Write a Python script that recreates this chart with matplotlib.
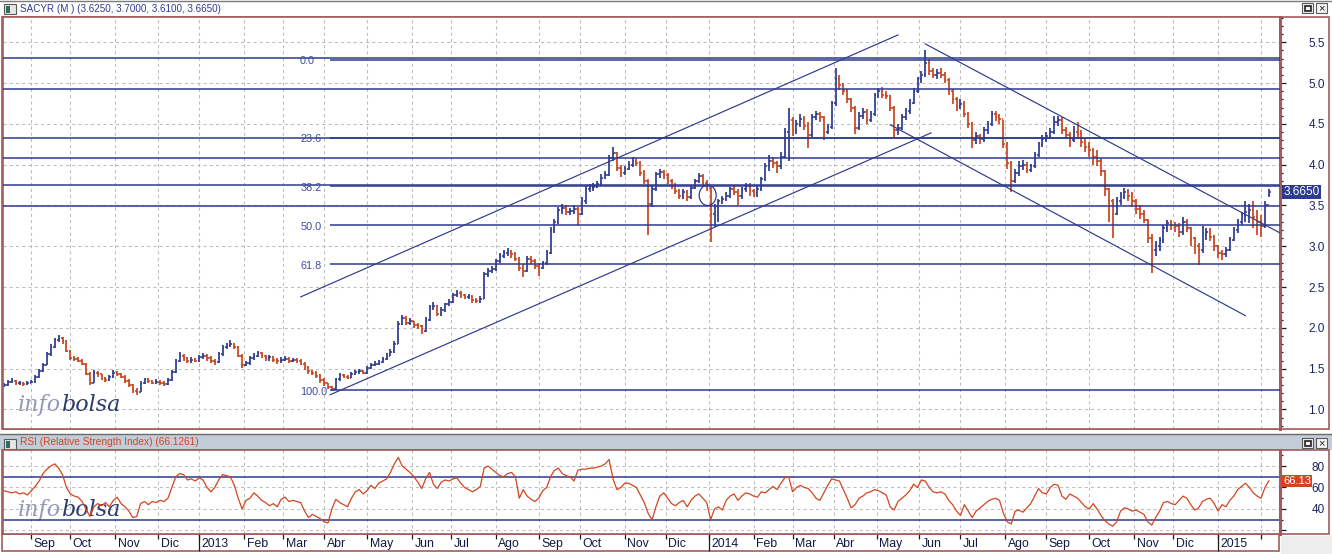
import numpy as np
import pandas as pd
import matplotlib
matplotlib.use('Agg')
import matplotlib.pyplot as plt
from matplotlib.patches import Rectangle, Ellipse
from matplotlib.transforms import ScaledTranslation, blended_transform_factory

plt.rcParams['font.family'] = ['Liberation Sans', 'DejaVu Sans']

# ---------------- data (one bar = 2 sessions) ----------------
start_day = '2012-08-14'

cl = [1.30, 1.34, 1.35, 1.32, 1.33, 1.31, 1.33, 1.34, 1.40, 1.47,
      1.55, 1.68, 1.76, 1.85, 1.88, 1.84, 1.72, 1.63, 1.62, 1.60,
      1.56, 1.44, 1.33, 1.45, 1.43, 1.38, 1.36, 1.40, 1.45, 1.44,
      1.40, 1.35, 1.30, 1.23, 1.22, 1.33, 1.37, 1.35, 1.33, 1.34,
      1.33, 1.31, 1.36, 1.46, 1.60, 1.66, 1.63, 1.59, 1.61, 1.60,
      1.64, 1.66, 1.63, 1.60, 1.58, 1.68, 1.76, 1.78, 1.80, 1.76,
      1.66, 1.55, 1.57, 1.63, 1.66, 1.69, 1.65, 1.63, 1.64, 1.61,
      1.59, 1.61, 1.62, 1.59, 1.61, 1.60, 1.56, 1.52, 1.47, 1.45,
      1.41, 1.36, 1.32, 1.27, 1.25, 1.37, 1.42, 1.40, 1.39, 1.44,
      1.46, 1.47, 1.45, 1.51, 1.55, 1.56, 1.58, 1.62, 1.66, 1.70,
      1.80, 2.05, 2.12, 2.06, 2.08, 2.03, 2.02, 1.96, 2.10, 2.25,
      2.27, 2.17, 2.22, 2.29, 2.32, 2.40, 2.43, 2.40, 2.38, 2.39,
      2.34, 2.33, 2.36, 2.66, 2.70, 2.72, 2.82, 2.88, 2.92, 2.93,
      2.90, 2.85, 2.74, 2.70, 2.85, 2.82, 2.76, 2.74, 2.79, 2.92,
      3.20, 3.30, 3.44, 3.47, 3.42, 3.43, 3.46, 3.40, 3.55, 3.70,
      3.71, 3.73, 3.76, 3.84, 3.87, 4.08, 4.14, 3.96, 3.90, 3.95,
      4.00, 4.05, 4.02, 3.90, 3.80, 3.52, 3.70, 3.88, 3.91, 3.87,
      3.80, 3.74, 3.68, 3.62, 3.66, 3.60, 3.72, 3.80, 3.86, 3.78,
      3.72, 3.40, 3.48, 3.55, 3.58, 3.62, 3.70, 3.67, 3.62, 3.70,
      3.74, 3.68, 3.64, 3.70, 3.82, 3.98, 4.05, 4.02, 3.98, 4.10,
      4.40, 4.55, 4.42, 4.50, 4.56, 4.48, 4.36, 4.58, 4.62, 4.58,
      4.40, 4.46, 4.75, 5.05, 4.98, 4.90, 4.80, 4.70, 4.45, 4.60,
      4.64, 4.55, 4.62, 4.85, 4.90, 4.86, 4.84, 4.70, 4.42, 4.45,
      4.58, 4.66, 4.76, 4.90, 5.05, 5.10, 5.25, 5.15, 5.10, 5.12,
      5.10, 5.04, 4.90, 4.80, 4.72, 4.74, 4.62, 4.50, 4.30, 4.35,
      4.32, 4.42, 4.50, 4.62, 4.58, 4.56, 4.25, 4.02, 3.80, 3.90,
      3.98, 4.00, 3.94, 3.98, 4.12, 4.25, 4.32, 4.35, 4.40, 4.52,
      4.55, 4.42, 4.36, 4.30, 4.40, 4.38, 4.28, 4.22, 4.18, 4.10,
      4.05, 3.92, 3.70, 3.55, 3.40, 3.55, 3.62, 3.66, 3.62, 3.56,
      3.46, 3.40, 3.32, 3.10, 2.95, 3.00, 3.08, 3.22, 3.28, 3.26,
      3.25, 3.18, 3.30, 3.22, 3.10, 3.00, 2.96, 3.15, 3.18, 3.12,
      3.00, 2.92, 2.90, 2.96, 3.08, 3.20, 3.30, 3.38, 3.42, 3.45,
      3.36, 3.30, 3.25, 3.50, 3.665]

hi = [1.33, 1.36, 1.38, 1.36, 1.35, 1.34, 1.35, 1.36, 1.42, 1.50,
      1.57, 1.70, 1.80, 1.88, 1.91, 1.89, 1.85, 1.73, 1.66, 1.64,
      1.62, 1.57, 1.46, 1.48, 1.47, 1.44, 1.40, 1.42, 1.48, 1.47,
      1.45, 1.42, 1.37, 1.31, 1.26, 1.35, 1.39, 1.39, 1.36, 1.37,
      1.36, 1.35, 1.38, 1.48, 1.62, 1.70, 1.68, 1.64, 1.64, 1.63,
      1.67, 1.69, 1.68, 1.65, 1.62, 1.70, 1.79, 1.82, 1.85, 1.82,
      1.78, 1.68, 1.60, 1.65, 1.69, 1.72, 1.70, 1.67, 1.67, 1.66,
      1.63, 1.64, 1.65, 1.64, 1.63, 1.63, 1.62, 1.58, 1.53, 1.49,
      1.47, 1.43, 1.38, 1.33, 1.29, 1.39, 1.45, 1.44, 1.42, 1.46,
      1.49, 1.50, 1.49, 1.53, 1.57, 1.59, 1.61, 1.64, 1.69, 1.74,
      1.84, 2.08, 2.16, 2.14, 2.12, 2.09, 2.06, 2.04, 2.13, 2.28,
      2.32, 2.28, 2.25, 2.31, 2.35, 2.43, 2.46, 2.45, 2.42, 2.42,
      2.40, 2.37, 2.39, 2.68, 2.74, 2.76, 2.84, 2.92, 2.96, 2.98,
      2.96, 2.93, 2.87, 2.78, 2.88, 2.88, 2.84, 2.80, 2.82, 2.95,
      3.24, 3.34, 3.48, 3.52, 3.50, 3.47, 3.50, 3.48, 3.60, 3.74,
      3.76, 3.78, 3.80, 3.89, 3.92, 4.12, 4.22, 4.16, 4.00, 3.99,
      4.04, 4.10, 4.08, 4.04, 3.93, 3.82, 3.74, 3.91, 3.95, 3.94,
      3.90, 3.83, 3.77, 3.70, 3.70, 3.69, 3.75, 3.83, 3.90, 3.89,
      3.81, 3.74, 3.52, 3.58, 3.62, 3.66, 3.73, 3.74, 3.70, 3.73,
      3.78, 3.77, 3.70, 3.74, 3.85, 4.02, 4.12, 4.10, 4.05, 4.16,
      4.45, 4.69, 4.58, 4.55, 4.62, 4.60, 4.52, 4.62, 4.66, 4.65,
      4.60, 4.50, 4.78, 5.18, 5.10, 5.00, 4.93, 4.82, 4.72, 4.64,
      4.70, 4.68, 4.66, 4.88, 4.94, 4.95, 4.90, 4.86, 4.72, 4.50,
      4.62, 4.70, 4.80, 4.94, 5.08, 5.15, 5.40, 5.30, 5.18, 5.17,
      5.18, 5.14, 5.06, 4.93, 4.83, 4.80, 4.78, 4.65, 4.52, 4.40,
      4.38, 4.46, 4.54, 4.66, 4.66, 4.62, 4.55, 4.28, 4.05, 3.95,
      4.04, 4.06, 4.03, 4.01, 4.16, 4.28, 4.36, 4.40, 4.45, 4.60,
      4.60, 4.58, 4.46, 4.40, 4.48, 4.52, 4.42, 4.32, 4.28, 4.20,
      4.18, 4.08, 3.94, 3.72, 3.58, 3.60, 3.67, 3.72, 3.70, 3.66,
      3.58, 3.50, 3.44, 3.34, 3.15, 3.06, 3.12, 3.26, 3.32, 3.32,
      3.30, 3.28, 3.36, 3.34, 3.24, 3.12, 3.04, 3.25, 3.22, 3.22,
      3.14, 3.02, 2.96, 2.99, 3.12, 3.24, 3.34, 3.42, 3.56, 3.52,
      3.55, 3.44, 3.38, 3.56, 3.70]

lo = [1.27, 1.29, 1.32, 1.30, 1.30, 1.29, 1.30, 1.32, 1.33, 1.39,
      1.46, 1.54, 1.66, 1.75, 1.83, 1.80, 1.70, 1.61, 1.59, 1.58,
      1.54, 1.42, 1.30, 1.32, 1.40, 1.36, 1.34, 1.35, 1.39, 1.41,
      1.38, 1.33, 1.28, 1.20, 1.18, 1.21, 1.31, 1.32, 1.31, 1.31,
      1.30, 1.29, 1.30, 1.35, 1.45, 1.58, 1.60, 1.57, 1.57, 1.58,
      1.58, 1.62, 1.60, 1.57, 1.55, 1.57, 1.66, 1.74, 1.76, 1.74,
      1.64, 1.51, 1.53, 1.55, 1.61, 1.64, 1.63, 1.60, 1.60, 1.58,
      1.56, 1.57, 1.59, 1.57, 1.58, 1.57, 1.54, 1.49, 1.44, 1.42,
      1.38, 1.33, 1.29, 1.25, 1.23, 1.24, 1.35, 1.38, 1.37, 1.38,
      1.42, 1.44, 1.43, 1.44, 1.50, 1.53, 1.54, 1.57, 1.61, 1.65,
      1.69, 1.80, 2.03, 2.03, 2.04, 2.00, 1.99, 1.92, 1.95, 2.08,
      2.22, 2.14, 2.15, 2.20, 2.27, 2.30, 2.38, 2.37, 2.35, 2.35,
      2.31, 2.30, 2.31, 2.35, 2.62, 2.67, 2.70, 2.79, 2.86, 2.88,
      2.86, 2.82, 2.70, 2.62, 2.68, 2.78, 2.72, 2.64, 2.72, 2.77,
      2.90, 3.16, 3.27, 3.40, 3.38, 3.38, 3.40, 3.25, 3.38, 3.52,
      3.66, 3.68, 3.71, 3.74, 3.82, 3.86, 4.04, 3.92, 3.85, 3.87,
      3.93, 3.97, 3.98, 3.86, 3.76, 3.14, 3.48, 3.68, 3.84, 3.82,
      3.76, 3.70, 3.64, 3.58, 3.58, 3.56, 3.58, 3.70, 3.77, 3.75,
      3.68, 3.05, 3.24, 3.30, 3.52, 3.55, 3.59, 3.63, 3.50, 3.58,
      3.67, 3.62, 3.60, 3.61, 3.68, 3.80, 3.92, 3.96, 3.90, 3.95,
      4.08, 4.05, 4.35, 4.38, 4.46, 4.42, 4.20, 4.34, 4.55, 4.52,
      4.30, 4.38, 4.44, 4.72, 4.92, 4.85, 4.76, 4.64, 4.38, 4.42,
      4.56, 4.50, 4.52, 4.60, 4.82, 4.82, 4.80, 4.66, 4.34, 4.36,
      4.43, 4.55, 4.62, 4.74, 4.88, 5.00, 5.08, 5.10, 5.06, 5.05,
      5.06, 5.00, 4.86, 4.74, 4.66, 4.68, 4.58, 4.45, 4.20, 4.25,
      4.25, 4.28, 4.38, 4.48, 4.53, 4.50, 4.20, 3.95, 3.66, 3.77,
      3.86, 3.94, 3.90, 3.91, 3.96, 4.10, 4.22, 4.28, 4.32, 4.38,
      4.48, 4.38, 4.32, 4.22, 4.28, 4.32, 4.22, 4.16, 4.10, 4.00,
      3.98, 3.86, 3.62, 3.30, 3.10, 3.38, 3.50, 3.58, 3.55, 3.48,
      3.40, 3.34, 3.28, 3.04, 2.67, 2.88, 2.94, 3.04, 3.18, 3.20,
      3.18, 3.12, 3.14, 3.18, 3.00, 2.90, 2.77, 2.92, 3.08, 3.06,
      2.94, 2.86, 2.83, 2.87, 2.94, 3.06, 3.16, 3.26, 3.30, 3.28,
      3.22, 3.14, 3.12, 3.22, 3.61]

rsi = [57, 56, 55, 56, 54, 55, 53, 57, 61, 66,
       73, 77, 80, 82, 78, 72, 60, 54, 52, 51,
       47, 40, 33, 42, 45, 43, 46, 42, 48, 51,
       45, 42, 38, 32, 33, 45, 47, 44, 47, 46,
       48, 47, 50, 60, 70, 73, 72, 67, 68, 66,
       69, 67, 60, 56, 60, 67, 72, 71, 70, 62,
       50, 40, 48, 50, 55, 52, 48, 46, 43, 45,
       42, 49, 51, 47, 48, 47, 46, 38, 32, 35,
       33, 31, 28, 27, 40, 49, 46, 44, 42, 50,
       56, 58, 54, 57, 62, 59, 64, 66, 68, 74,
       82, 88, 80, 77, 74, 70, 65, 59, 68, 74,
       63, 59, 65, 67, 66, 68, 69, 64, 60, 58,
       56, 58, 61, 78, 80, 77, 74, 71, 70, 73,
       74, 70, 50, 58, 52, 49, 47, 50, 57, 60,
       70, 76, 78, 73, 71, 70, 66, 76, 77, 77,
       78, 78, 79, 80, 82, 86, 68, 58, 60, 64,
       64, 62, 60, 53, 46, 36, 30, 42, 52, 55,
       50, 45, 43, 46, 48, 42, 48, 52, 54, 50,
       46, 30, 40, 42, 39, 48, 52, 54, 48, 52,
       55, 54, 52, 51, 56, 55, 58, 61, 58, 64,
       69, 70, 56, 60, 62, 60, 59, 55, 50, 48,
       55, 62, 68, 67, 66, 58, 50, 41, 44, 50,
       52, 55, 56, 58, 57, 55, 53, 42, 39, 47,
       50, 53, 57, 63, 60, 67, 66, 60, 56, 55,
       56, 54, 48, 44, 38, 34, 44, 38, 32, 38,
       41, 44, 47, 49, 50, 48, 36, 28, 26, 38,
       39, 37, 41, 45, 52, 59, 55, 54, 60, 63,
       62, 52, 49, 54, 52, 50, 46, 42, 40, 45,
       40, 34, 29, 26, 24, 28, 38, 41, 40, 38,
       39, 37, 35, 28, 25, 32, 38, 46, 47, 45,
       44, 48, 52, 50, 44, 39, 41, 47, 49, 50,
       45, 38, 44, 42, 48, 52, 58, 61, 64, 60,
       55, 52, 50, 60, 66.13]

last_ohlc = (3.6250, 3.7000, 3.6100, 3.6650)
rsi_last = 66.1261

# horizontal support / resistance lines (full width)
support = [5.308, 4.928, 4.33, 4.082, 3.748, 3.494]
# fibonacci retracement
fib_high, fib_low = 5.283, 1.235
fib_from = '2013-04-04'
fib_pct = [0.0, 23.6, 38.2, 50.0, 61.8, 100.0]
# channels: start date, start price, end date, end price
trend_d0 = ['2013-03-14', '2013-04-04', '2014-06-05', '2014-05-12']
trend_p0 = [2.38, 1.18, 5.48, 4.49]
trend_d1 = ['2014-05-16', '2014-06-10', '2015-02-16', '2015-01-21']
trend_p1 = [5.59, 4.39, 3.16, 2.15]
circle_day, circle_px = '2013-12-31', 3.625

mes = ['', 'Ene', 'Feb', 'Mar', 'Abr', 'May', 'Jun', 'Jul', 'Ago', 'Sep', 'Oct', 'Nov', 'Dic']

# ---------------- layout ----------------
NAVY = '#2E3A8E'
UP = '#2F3B8F'
DN = '#C8441C'
RED = '#D2461E'
BROWN = '#A35B5B'
GRID = '#BDBDBD'
W, H = 1332, 554
PX = 1.952   # pixels per session

days = pd.bdate_range(start_day, periods=680)
def day_pos(d):
    return int(days.get_loc(pd.Timestamp(d)))

n = min(len(cl), len(hi), len(lo), len(rsi))
cl = np.array(cl[:n]); hi = np.array(hi[:n]); lo = np.array(lo[:n]); rsi = np.array(rsi[:n], float)
pos = np.arange(n) * 2.0
xmin = -0.5
xmax = xmin + (1280 - 3) / PX

fig = plt.figure(figsize=(W / 100, H / 100), dpi=100)
def box(x0, y0, x1, y1):
    return [x0 / W, 1 - y1 / H, (x1 - x0) / W, (y1 - y0) / H]

bg = fig.add_axes([0, 0, 1, 1])
bg.set_xlim(0, W); bg.set_ylim(H, 0); bg.axis('off'); bg.set_zorder(-5)

ax1 = fig.add_axes(box(3, 17, 1280, 429))
ax2 = fig.add_axes(box(3, 450, 1280, 534))

# window chrome
bg.plot([0, W], [0.5, 0.5], color='#7A7A7A', lw=1)
bg.add_patch(Rectangle((2, 17), 1327, 412, fill=False, ec=BROWN, lw=1.2))
bg.plot([0, W], [433.5, 433.5], color='#6A6A6A', lw=1)
bg.add_patch(Rectangle((0, 434), W, 15.5, fc='#C3CDD9', ec='none'))
bg.add_patch(Rectangle((2, 450), 1327, 84, fill=False, ec=BROWN, lw=1.2))
bg.add_patch(Rectangle((2, 534), 1277, 17, fill=False, ec=BROWN, lw=1.2))
bg.add_patch(Rectangle((1281, 536), 51, 18, fc='#EDEDED', ec='none'))
for yy in (2, 437):
    bg.add_patch(Rectangle((4, yy + 2), 12, 10, fc='#E6E6E6', ec='#5A5A5A', lw=0.8))
    bg.add_patch(Rectangle((6, yy + 4), 4, 7, fc='#2E6E5E', ec='none'))
    bg.add_patch(Rectangle((1302, yy + 1), 11, 10, fc='#F2F2F2', ec='#5A5A5A', lw=0.8))
    bg.add_patch(Rectangle((1304.5, yy + 3.5), 6, 5, fill=False, ec='#202020', lw=1.2))
    bg.add_patch(Rectangle((1316, yy + 1), 11, 10, fc='#F2F2F2', ec='#5A5A5A', lw=0.8))
    bg.text(1321.5, yy + 6, '×', ha='center', va='center', fontsize=8, color='#202020')
bg.text(20, 9, 'SACYR (M ) (%.4f, %.4f, %.4f, %.4f)' % last_ohlc,
        color=NAVY, fontsize=7.1, va='center', ha='left')
bg.text(20, 442, 'RSI (Relative Strength Index) (%.4f)' % rsi_last,
        color=RED, fontsize=7.3, va='center', ha='left')

# month ticks
s = pd.Series(np.arange(len(days)), index=days)
firsts = s.groupby([days.year, days.month]).first()
mpos, mlab, ypos = [], [], []
for (yr, mo), idx in firsts.items():
    if days[idx].day > 3 or idx > xmax:
        continue
    mpos.append(idx)
    mlab.append(str(yr) if mo == 1 else mes[mo])
    if mo == 1:
        ypos.append(idx)

for ax in (ax1, ax2):
    ax.set_xlim(xmin, xmax)
    ax.set_xticks(mpos)
    ax.yaxis.tick_right()
    ax.set_axisbelow(True)
    ax.grid(True, which='major', color=GRID, ls=(0, (3, 3)), lw=0.75)
    for sp in ax.spines.values():
        sp.set_color(BROWN); sp.set_linewidth(1.2)
    ax.spines['right'].set_linewidth(2.2)
    ax.tick_params(axis='y', which='both', direction='out', color='#1A1A1A',
                   labelsize=8.5, labelcolor='#1B2463', pad=16)
    ax.tick_params(axis='y', which='major', length=4.3, width=0.9)
    ax.tick_params(axis='y', which='minor', length=2.2, width=0.9)
ax2.tick_params(axis='y', which='both', pad=18.5)

ax1.tick_params(axis='x', length=0, labelbottom=False)

# ---------------- price panel ----------------
ax1.set_ylim(0.761, 5.81)
ax1.set_yticks(np.arange(1.0, 5.51, 0.5))
ax1.set_yticks(np.arange(0.8, 5.81, 0.1), minor=True)
ax1.yaxis.set_major_formatter(matplotlib.ticker.FormatStrFormatter('%.1f'))

prev = np.r_[cl[0], cl[:-1]]
cols = np.where(cl >= prev, UP, DN)
ax1.vlines(pos, lo, hi, colors=cols, lw=1.25, zorder=2)
ax1.hlines(prev, pos - 0.85, pos, colors=cols, lw=1.15, zorder=2)
ax1.hlines(cl, pos, pos + 0.85, colors=cols, lw=1.15, zorder=2)

for v in support:
    ax1.axhline(v, color=NAVY, lw=1.1, zorder=3)

f0 = day_pos(fib_from)
for p in fib_pct:
    v = fib_high - p / 100.0 * (fib_high - fib_low)
    ax1.hlines(v, f0, xmax, color=NAVY, lw=1.1, zorder=3)
    ax1.annotate('%.1f' % p, xy=(f0, v), xytext=(-21.5, -1), textcoords='offset points',
                 ha='left', va='center', fontsize=7.8, color='#3C4BA0', zorder=4)

for d0, p0, d1, p1 in zip(trend_d0, trend_p0, trend_d1, trend_p1):
    ax1.plot([day_pos(d0), day_pos(d1)], [p0, p1], color=NAVY, lw=0.85, zorder=3)

ax1.add_patch(Ellipse((day_pos(circle_day) + 0.5, circle_px), 8.7, 0.25,
                      fill=False, ec=NAVY, lw=0.9, zorder=3))

tr1 = blended_transform_factory(ax1.transAxes, ax1.transData)
ax1.text(1.0025, cl[-1], '%.4f' % cl[-1], transform=tr1, ha='left', va='center',
         fontsize=8.5, color='white', zorder=6, clip_on=False,
         bbox=dict(boxstyle='square,pad=0.12', fc=NAVY, ec='none'))

# ---------------- RSI panel ----------------
ax2.set_ylim(16.7, 94.9)
ax2.set_yticks([20, 40, 60, 80])
ax2.set_yticklabels(['', '40', '60', '80'])
ax2.set_yticks([30, 50, 70, 90], minor=True)
ax2.axhline(70, color=NAVY, lw=1.1, zorder=2)
ax2.axhline(30, color=NAVY, lw=1.1, zorder=2)
ax2.plot(pos, rsi, color=RED, lw=0.9, zorder=4)
tr2 = blended_transform_factory(ax2.transAxes, ax2.transData)
ax2.text(1.0025, rsi[-1], '%.2f' % rsi[-1], transform=tr2, ha='left', va='center',
         fontsize=8.0, color='white', zorder=6, clip_on=False,
         bbox=dict(boxstyle='square,pad=0.1', fc=RED, ec='none'))

# x axis labels (Spanish months)
ax2.set_xticklabels([''] * len(mpos))
ax2.tick_params(axis='x', direction='out', length=3.6, width=0.9, color='#1A1A1A')
ax2.xaxis.remove_overlapping_locs = False
ax2.set_xticks(ypos, minor=True)
ax2.tick_params(axis='x', which='minor', direction='out', length=12, width=0.9, color='#1A1A1A')
trx = blended_transform_factory(ax2.transData, ax2.transAxes) + \
    ScaledTranslation(0.025, -0.10, fig.dpi_scale_trans)
for p, lab in zip(mpos, mlab):
    if p > xmax - 12:
        continue
    ax2.text(p, 0, lab, transform=trx, ha='left', va='center', fontsize=8.8,
             color='#101840', clip_on=False)

# watermark
for ax, yb in ((ax1, (429 - 411) / 412), (ax2, (534 - 516) / 84)):
    t = ax.text((18 - 3) / 1277, yb, 'info', transform=ax.transAxes, fontsize=16,
                family='DejaVu Serif', style='italic', color='#9698B9',
                va='baseline', ha='left', zorder=1)
    ax.annotate('bolsa', xy=(1, 0), xycoords=t, va='bottom', ha='left', fontsize=16,
                family='DejaVu Serif', style='italic', color='#2D3C6E', zorder=1)

fig.savefig('out.png', dpi=100)
